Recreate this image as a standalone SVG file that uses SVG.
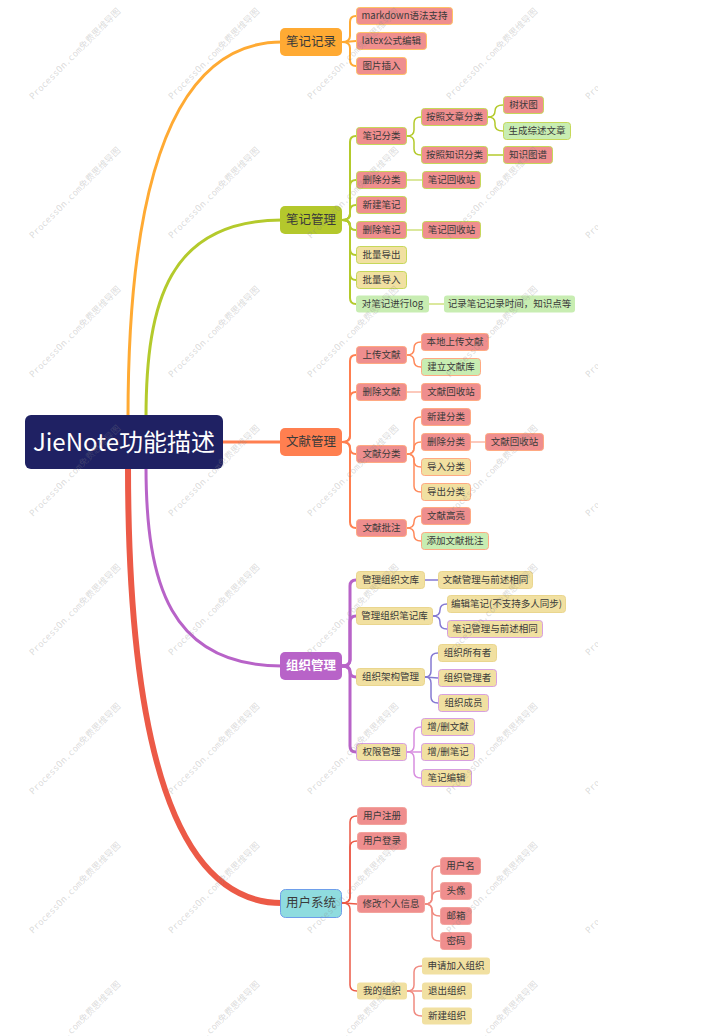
<svg xmlns="http://www.w3.org/2000/svg" width="714" height="1036" viewBox="0 0 714 1036">
<defs>
<clipPath id="wmclip"><rect x="0" y="0" width="598" height="1036"/></clipPath>
<style>
.t{font-family:"Noto Sans CJK SC","Noto Sans",sans-serif;font-size:9.5px;fill:#3a3a3a;text-anchor:middle}
.t1{font-family:"Noto Sans CJK SC","Noto Sans",sans-serif;font-size:12.5px;fill:#3a3a3a;text-anchor:middle}
.tr{font-family:"Noto Sans CJK SC","Noto Sans",sans-serif;font-size:24px;fill:#ffffff;text-anchor:middle}
.pk{fill:#EF8E8E}
.yl{fill:#F1E0A1}
.gr{fill:#C8EDB2}
.s1{stroke:#FFC266;stroke-width:1}
.s2{stroke:#C6D85A;stroke-width:1}
.s3{stroke:#FFA982;stroke-width:1}
.s4y{stroke:#EAD68E;stroke-width:1}
.s4p{stroke:#D79FE0;stroke-width:1}
.s5{stroke:#F3A39C;stroke-width:1}
.c{fill:none;stroke-linecap:round}
.wm{font-family:"DejaVu Sans Mono","Noto Sans CJK SC",monospace;font-size:9px;fill:#888888;fill-opacity:0.3}
</style>
</defs>
<rect x="0" y="0" width="714" height="1036" fill="#ffffff"/>

<g id="connectors">
  <!-- root to level 1 -->
  <path class="c" stroke="#FFAA33" stroke-width="3" d="M128,418 Q128,42 282,42"/>
  <path class="c" stroke="#B4CA2C" stroke-width="3" d="M146,418 C146,300 170,220 282,220"/>
  <path class="c" stroke="#FF7F50" stroke-width="3" d="M220,442 L282,442"/>
  <path class="c" stroke="#B863C8" stroke-width="3" d="M146,466 C146,584 170,666 282,666"/>
  <path class="c" stroke="#EC5A47" stroke-width="6" d="M128,466 Q128,903 282,903"/>

  <!-- 笔记记录 -->
  <g stroke="#FFAA33" stroke-width="2" fill="none">
    <path d="M342,42 Q350,42 350,36 L350,22 Q350,16 356,16"/>
    <path d="M342,42 C350,42 350,41 356,41"/>
    <path d="M342,42 Q350,42 350,48 L350,60 Q350,66 356,66"/>
  </g>
  <!-- 笔记管理 -->
  <g stroke="#B4CA2C" stroke-width="2" fill="none">
    <path d="M342,220 Q350,220 350,214 L350,142 Q350,136 356,136"/>
    <path d="M342,220 Q350,220 350,214 L350,186 Q350,180 356,180"/>
    <path d="M342,220 Q350,220 350,214 L350,211 Q350,205 356,205"/>
    <path d="M342,220 Q350,220 350,225 Q350,230 356,230"/>
    <path d="M342,220 Q350,220 350,226 L350,249 Q350,255 356,255"/>
    <path d="M342,220 Q350,220 350,226 L350,274 Q350,280 356,280"/>
    <path d="M342,220 Q350,220 350,226 L350,298 Q350,304 356,304"/>
  </g>
  <g stroke="#B4CA2C" stroke-width="1.5" fill="none">
    <path d="M407,136 Q414,136 414,130 L414,123 Q414,117 421,117"/>
    <path d="M407,136 Q414,136 414,142 L414,149 Q414,155 421,155"/>
    <path d="M488,117 Q495,117 495,111 Q495,105 503,105"/>
    <path d="M488,117 Q495,117 495,123 L495,125 Q495,131 503,131"/>
    <path d="M488,155 L503,155"/>
  </g>
  <g stroke="#CFE07C" stroke-width="1.5" fill="none">
    <path d="M407,180 L422,180"/>
    <path d="M407,230 L422,230"/>
    <path d="M429,304 L444,304"/>
  </g>
  <!-- 文献管理 -->
  <g stroke="#FF7F50" stroke-width="2" fill="none">
    <path d="M342,442 Q350,442 350,436 L350,361 Q350,355 356,355"/>
    <path d="M342,442 Q350,442 350,436 L350,398 Q350,392 356,392"/>
    <path d="M342,442 Q350,442 350,448 Q350,454 356,454"/>
    <path d="M342,442 Q350,442 350,448 L350,522 Q350,528 356,528"/>
  </g>
  <g stroke="#FF8A5C" stroke-width="1.5" fill="none">
    <path d="M407,355 Q414,355 414,349 L414,348 Q414,342 421,342"/>
    <path d="M407,355 Q414,355 414,361 Q414,367 421,367"/>
    <path d="M407,454 Q414,454 414,448 L414,423 Q414,417 421,417"/>
    <path d="M407,454 Q414,454 414,448 Q414,442 421,442"/>
    <path d="M407,454 Q414,454 414,460 L414,461 Q414,467 421,467"/>
    <path d="M407,454 Q414,454 414,460 L414,486 Q414,492 421,492"/>
    <path d="M407,528 Q414,528 414,522 Q414,516 421,516"/>
    <path d="M407,528 Q414,528 414,534 L414,535 Q414,541 421,541"/>
  </g>
  <g stroke="#FBB7A6" stroke-width="1.5" fill="none">
    <path d="M407,392 L421,392"/>
    <path d="M471,442 L485,442"/>
  </g>
  <!-- 组织管理 -->
  <g stroke="#B863C8" stroke-width="3" fill="none">
    <path d="M342,666 Q350,666 350,660 L350,586 Q350,580 356,580"/>
    <path d="M342,666 Q350,666 350,660 L350,622 Q350,616 356,616"/>
    <path d="M342,666 Q350,666 350,671.5 Q350,677 356,677"/>
    <path d="M342,666 Q350,666 350,672 L350,746 Q350,752 356,752"/>
  </g>
  <g stroke="#8579D2" stroke-width="1.5" fill="none">
    <path d="M425,580 L438,580"/>
    <path d="M433,616 Q440,616 440,610 Q440,604 447,604"/>
    <path d="M433,616 Q440,616 440,622 L440,623 Q440,629 447,629"/>
    <path d="M425,677 Q431,677 431,671 L431,659 Q431,653 438,653"/>
    <path d="M425,677 L438,678"/>
    <path d="M425,677 Q431,677 431,683 L431,697 Q431,703 438,703"/>
  </g>
  <g stroke="#D88FE0" stroke-width="1.5" fill="none">
    <path d="M407,752 Q414,752 414,746 L414,733 Q414,727 421,727"/>
    <path d="M407,752 L421,752"/>
    <path d="M407,752 Q414,752 414,758 L414,772 Q414,778 421,778"/>
  </g>
  <!-- 用户系统 -->
  <g stroke="#EC5A47" stroke-width="1.5" fill="none">
    <path d="M342,903 Q350,903 350,897 L350,822 Q350,816 357,816"/>
    <path d="M342,903 Q350,903 350,897 L350,847 Q350,841 357,841"/>
    <path d="M342,903 C350,903 350,904 357,904"/>
    <path d="M342,903 Q350,903 350,909 L350,985 Q350,991 357,991"/>
  </g>
  <g stroke="#F08A80" stroke-width="1.5" fill="none">
    <path d="M425,904 Q432,904 432,898 L432,872 Q432,866 440,866"/>
    <path d="M425,904 Q432,904 432,898 L432,897 Q432,891 440,891"/>
    <path d="M425,904 Q432,904 432,910 Q432,916 440,916"/>
    <path d="M425,904 Q432,904 432,910 L432,935 Q432,941 440,941"/>
    <path d="M407,991 Q414,991 414,985 L414,972 Q414,966 422,966"/>
    <path d="M407,991 L422,991"/>
    <path d="M407,991 Q414,991 414,997 L414,1010 Q414,1016 422,1016"/>
  </g>
</g>

<g id="root">
  <rect x="25" y="415" width="198" height="54" rx="6" fill="#1F2163"/>
  <text class="tr" x="124" y="450.5">JieNote功能描述</text>
</g>

<!-- level 1 -->
<g id="n-biji-jilu">
  <rect x="280" y="28" width="62" height="28" rx="5" fill="#FFAA33"/>
  <text class="t1" x="311" y="46.4">笔记记录</text>
</g>
<g id="n-biji-guanli">
  <rect x="280" y="206" width="62" height="28" rx="5" fill="#B4C82C"/>
  <text class="t1" x="311" y="224.4">笔记管理</text>
</g>
<g id="n-wenxian-guanli">
  <rect x="280" y="428" width="62" height="28" rx="5" fill="#FF7F50"/>
  <text class="t1" x="311" y="446.4">文献管理</text>
</g>
<g id="n-zuzhi-guanli">
  <rect x="280" y="652" width="62" height="28" rx="5" fill="#B863C8"/>
  <text class="t1" x="311" y="670.4" style="fill:#ffffff;font-weight:bold">组织管理</text>
</g>
<g id="n-yonghu-xitong">
  <rect x="280.5" y="889.5" width="61" height="28" rx="5" fill="#8FDCDF" stroke="#6E9EEA" stroke-width="1"/>
  <text class="t1" x="311" y="907.4">用户系统</text>
</g>

<!-- 笔记记录 children -->
<g id="n-markdown"><rect class="pk s1" x="356.5" y="7.5" width="96" height="17" rx="3"/><text class="t" x="404.5" y="19.4">markdown语法支持</text></g>
<g id="n-latex"><rect class="pk s1" x="356.5" y="32.5" width="70" height="17" rx="3"/><text class="t" x="391.5" y="44.4">latex公式编辑</text></g>
<g id="n-tupian"><rect class="pk s1" x="356.5" y="57.5" width="50" height="17" rx="3"/><text class="t" x="381.5" y="69.4">图片插入</text></g>

<!-- 笔记管理 children -->
<g id="n-biji-fenlei"><rect class="pk s2" x="356.5" y="127.5" width="50" height="17" rx="3"/><text class="t" x="381.5" y="139.4">笔记分类</text></g>
<g id="n-anzhao-wenzhang"><rect class="pk s2" x="421.5" y="108.5" width="66" height="17" rx="3"/><text class="t" x="454.5" y="120.4">按照文章分类</text></g>
<g id="n-shuzhuangtu"><rect class="pk s2" x="503.5" y="96.5" width="40" height="17" rx="3"/><text class="t" x="523.5" y="108.4">树状图</text></g>
<g id="n-zongshu"><rect class="gr s2" x="503.5" y="122.5" width="67" height="17" rx="3"/><text class="t" x="537" y="134.4">生成综述文章</text></g>
<g id="n-anzhao-zhishi"><rect class="pk s2" x="421.5" y="146.5" width="66" height="17" rx="3"/><text class="t" x="454.5" y="158.4">按照知识分类</text></g>
<g id="n-zhishi-tupu"><rect class="pk s2" x="503.5" y="146.5" width="49" height="17" rx="3"/><text class="t" x="528" y="158.4">知识图谱</text></g>
<g id="n-shanchu-fenlei"><rect class="pk s2" x="356.5" y="171.5" width="50" height="17" rx="3"/><text class="t" x="381.5" y="183.4">删除分类</text></g>
<g id="n-huishouzhan1"><rect class="pk s2" x="422.5" y="171.5" width="58" height="17" rx="3"/><text class="t" x="451.5" y="183.4">笔记回收站</text></g>
<g id="n-xinjian-biji"><rect class="pk s2" x="356.5" y="196.5" width="50" height="17" rx="3"/><text class="t" x="381.5" y="208.4">新建笔记</text></g>
<g id="n-shanchu-biji"><rect class="pk s2" x="356.5" y="221.5" width="50" height="17" rx="3"/><text class="t" x="381.5" y="233.4">删除笔记</text></g>
<g id="n-huishouzhan2"><rect class="pk s2" x="422.5" y="221.5" width="58" height="17" rx="3"/><text class="t" x="451.5" y="233.4">笔记回收站</text></g>
<g id="n-piliang-daochu"><rect class="yl s2" x="356.5" y="246.5" width="50" height="17" rx="3"/><text class="t" x="381.5" y="258.4">批量导出</text></g>
<g id="n-piliang-daoru"><rect class="yl s2" x="356.5" y="271.5" width="50" height="17" rx="3"/><text class="t" x="381.5" y="283.4">批量导入</text></g>
<g id="n-log"><rect class="gr" x="356" y="295.5" width="73" height="17" rx="3"/><text class="t" x="392.5" y="307.4">对笔记进行log</text></g>
<g id="n-log-desc"><rect class="gr" x="444" y="295.5" width="131" height="17" rx="3"/><text class="t" x="509.5" y="307.4">记录笔记记录时间，知识点等</text></g>

<!-- 文献管理 children -->
<g id="n-shangchuan"><rect class="pk s3" x="356.5" y="346.5" width="50" height="17" rx="3"/><text class="t" x="381.5" y="358.4">上传文献</text></g>
<g id="n-bendi"><rect class="pk s3" x="421.5" y="333.5" width="67" height="17" rx="3"/><text class="t" x="455" y="345.4">本地上传文献</text></g>
<g id="n-jianli"><rect class="gr s3" x="421.5" y="358.5" width="59" height="17" rx="3"/><text class="t" x="451" y="370.4">建立文献库</text></g>
<g id="n-shanchu-wenxian"><rect class="pk s3" x="356.5" y="383.5" width="50" height="17" rx="3"/><text class="t" x="381.5" y="395.4">删除文献</text></g>
<g id="n-wx-huishou1"><rect class="pk s3" x="421.5" y="383.5" width="59" height="17" rx="3"/><text class="t" x="451" y="395.4">文献回收站</text></g>
<g id="n-wenxian-fenlei"><rect class="pk s3" x="356.5" y="445.5" width="50" height="17" rx="3"/><text class="t" x="381.5" y="457.4">文献分类</text></g>
<g id="n-xinjian-fenlei"><rect class="pk s3" x="421.5" y="408.5" width="49" height="17" rx="3"/><text class="t" x="446" y="420.4">新建分类</text></g>
<g id="n-wx-shanchu-fenlei"><rect class="pk s3" x="421.5" y="433.5" width="49" height="17" rx="3"/><text class="t" x="446" y="445.4">删除分类</text></g>
<g id="n-wx-huishou2"><rect class="pk s3" x="485.5" y="433.5" width="58" height="17" rx="3"/><text class="t" x="514.5" y="445.4">文献回收站</text></g>
<g id="n-daoru-fenlei"><rect class="yl s3" x="421.5" y="458.5" width="49" height="17" rx="3"/><text class="t" x="446" y="470.4">导入分类</text></g>
<g id="n-daochu-fenlei"><rect class="yl s3" x="421.5" y="483.5" width="49" height="17" rx="3"/><text class="t" x="446" y="495.4">导出分类</text></g>
<g id="n-wenxian-pizhu"><rect class="pk s3" x="356.5" y="519.5" width="50" height="17" rx="3"/><text class="t" x="381.5" y="531.4">文献批注</text></g>
<g id="n-gaoliang"><rect class="pk s3" x="421.5" y="507.5" width="49" height="17" rx="3"/><text class="t" x="446" y="519.4">文献高亮</text></g>
<g id="n-tianjia-pizhu"><rect class="gr s3" x="421.5" y="532.5" width="67" height="17" rx="3"/><text class="t" x="455" y="544.4">添加文献批注</text></g>

<!-- 组织管理 children -->
<g id="n-zz-wenku"><rect class="yl s4y" x="356.5" y="571.5" width="68" height="17" rx="3"/><text class="t" x="390.5" y="583.4">管理组织文库</text></g>
<g id="n-zz-wenku-desc"><rect class="yl s4y" x="438.5" y="571.5" width="94" height="17" rx="3"/><text class="t" x="485.5" y="583.4">文献管理与前述相同</text></g>
<g id="n-zz-bijiku"><rect class="yl s4y" x="356.5" y="607.5" width="76" height="17" rx="3"/><text class="t" x="394.5" y="619.4">管理组织笔记库</text></g>
<g id="n-bianji-biji"><rect class="yl s4y" x="447.5" y="595.5" width="118" height="17" rx="3"/><text class="t" x="506.5" y="607.4">编辑笔记(不支持多人同步)</text></g>
<g id="n-biji-same"><rect class="yl s4p" x="447.5" y="620.5" width="95" height="17" rx="3"/><text class="t" x="495" y="632.4">笔记管理与前述相同</text></g>
<g id="n-jiagou"><rect class="yl s4y" x="356.5" y="668.5" width="68" height="17" rx="3"/><text class="t" x="390.5" y="680.4">组织架构管理</text></g>
<g id="n-suoyouzhe"><rect class="yl s4y" x="438.5" y="644.5" width="58" height="17" rx="3"/><text class="t" x="467.5" y="656.4">组织所有者</text></g>
<g id="n-guanlizhe"><rect class="yl s4p" x="438.5" y="669.5" width="58" height="17" rx="3"/><text class="t" x="467.5" y="681.4">组织管理者</text></g>
<g id="n-chengyuan"><rect class="yl s4p" x="438.5" y="694.5" width="50" height="17" rx="3"/><text class="t" x="463.5" y="706.4">组织成员</text></g>
<g id="n-quanxian"><rect class="yl s4p" x="356.5" y="743.5" width="50" height="17" rx="3"/><text class="t" x="381.5" y="755.4">权限管理</text></g>
<g id="n-zengshan-wenxian"><rect class="yl s4p" x="421.5" y="718.5" width="53" height="17" rx="3"/><text class="t" x="448" y="730.4">增/删文献</text></g>
<g id="n-zengshan-biji"><rect class="yl s4p" x="421.5" y="743.5" width="53" height="17" rx="3"/><text class="t" x="448" y="755.4">增/删笔记</text></g>
<g id="n-biji-bianji"><rect class="yl s4p" x="421.5" y="769.5" width="50" height="17" rx="3"/><text class="t" x="446.5" y="781.4">笔记编辑</text></g>

<!-- 用户系统 children -->
<g id="n-zhuce"><rect class="pk s5" x="357.5" y="807.5" width="49" height="17" rx="3"/><text class="t" x="382" y="819.4">用户注册</text></g>
<g id="n-denglu"><rect class="pk s5" x="357.5" y="832.5" width="49" height="17" rx="3"/><text class="t" x="382" y="844.4">用户登录</text></g>
<g id="n-xiugai"><rect class="pk s5" x="357.5" y="895.5" width="67" height="17" rx="3"/><text class="t" x="391" y="907.4">修改个人信息</text></g>
<g id="n-yonghuming"><rect class="pk s5" x="440.5" y="857.5" width="40" height="17" rx="3"/><text class="t" x="460.5" y="869.4">用户名</text></g>
<g id="n-touxiang"><rect class="pk s5" x="440.5" y="882.5" width="31" height="17" rx="3"/><text class="t" x="456" y="894.4">头像</text></g>
<g id="n-youxiang"><rect class="pk s5" x="440.5" y="907.5" width="31" height="17" rx="3"/><text class="t" x="456" y="919.4">邮箱</text></g>
<g id="n-mima"><rect class="pk s5" x="440.5" y="932.5" width="31" height="17" rx="3"/><text class="t" x="456" y="944.4">密码</text></g>
<g id="n-wode-zuzhi"><rect class="yl" x="357" y="982.5" width="50" height="17" rx="3"/><text class="t" x="382" y="994.4">我的组织</text></g>
<g id="n-shenqing"><rect class="yl" x="422" y="957.5" width="68" height="17" rx="3"/><text class="t" x="456" y="969.4">申请加入组织</text></g>
<g id="n-tuichu"><rect class="yl" x="422" y="982.5" width="50" height="17" rx="3"/><text class="t" x="447" y="994.4">退出组织</text></g>
<g id="n-xinjian-zuzhi"><rect class="yl" x="422" y="1007.5" width="50" height="17" rx="3"/><text class="t" x="447" y="1019.4">新建组织</text></g>

<g id="watermark" clip-path="url(#wmclip)">
  <text class="wm" x="33" y="100" transform="rotate(-45 33 100)">ProcessOn.com免费思维导图</text>
  <text class="wm" x="172" y="100" transform="rotate(-45 172 100)">ProcessOn.com免费思维导图</text>
  <text class="wm" x="311" y="100" transform="rotate(-45 311 100)">ProcessOn.com免费思维导图</text>
  <text class="wm" x="450" y="100" transform="rotate(-45 450 100)">ProcessOn.com免费思维导图</text>
  <text class="wm" x="589" y="100" transform="rotate(-45 589 100)">ProcessOn.com免费思维导图</text>
  <text class="wm" x="33" y="239" transform="rotate(-45 33 239)">ProcessOn.com免费思维导图</text>
  <text class="wm" x="172" y="239" transform="rotate(-45 172 239)">ProcessOn.com免费思维导图</text>
  <text class="wm" x="311" y="239" transform="rotate(-45 311 239)">ProcessOn.com免费思维导图</text>
  <text class="wm" x="450" y="239" transform="rotate(-45 450 239)">ProcessOn.com免费思维导图</text>
  <text class="wm" x="589" y="239" transform="rotate(-45 589 239)">ProcessOn.com免费思维导图</text>
  <text class="wm" x="33" y="378" transform="rotate(-45 33 378)">ProcessOn.com免费思维导图</text>
  <text class="wm" x="172" y="378" transform="rotate(-45 172 378)">ProcessOn.com免费思维导图</text>
  <text class="wm" x="311" y="378" transform="rotate(-45 311 378)">ProcessOn.com免费思维导图</text>
  <text class="wm" x="450" y="378" transform="rotate(-45 450 378)">ProcessOn.com免费思维导图</text>
  <text class="wm" x="589" y="378" transform="rotate(-45 589 378)">ProcessOn.com免费思维导图</text>
  <text class="wm" x="33" y="517" transform="rotate(-45 33 517)">ProcessOn.com免费思维导图</text>
  <text class="wm" x="172" y="517" transform="rotate(-45 172 517)">ProcessOn.com免费思维导图</text>
  <text class="wm" x="311" y="517" transform="rotate(-45 311 517)">ProcessOn.com免费思维导图</text>
  <text class="wm" x="450" y="517" transform="rotate(-45 450 517)">ProcessOn.com免费思维导图</text>
  <text class="wm" x="589" y="517" transform="rotate(-45 589 517)">ProcessOn.com免费思维导图</text>
  <text class="wm" x="33" y="656" transform="rotate(-45 33 656)">ProcessOn.com免费思维导图</text>
  <text class="wm" x="172" y="656" transform="rotate(-45 172 656)">ProcessOn.com免费思维导图</text>
  <text class="wm" x="311" y="656" transform="rotate(-45 311 656)">ProcessOn.com免费思维导图</text>
  <text class="wm" x="450" y="656" transform="rotate(-45 450 656)">ProcessOn.com免费思维导图</text>
  <text class="wm" x="589" y="656" transform="rotate(-45 589 656)">ProcessOn.com免费思维导图</text>
  <text class="wm" x="33" y="795" transform="rotate(-45 33 795)">ProcessOn.com免费思维导图</text>
  <text class="wm" x="172" y="795" transform="rotate(-45 172 795)">ProcessOn.com免费思维导图</text>
  <text class="wm" x="311" y="795" transform="rotate(-45 311 795)">ProcessOn.com免费思维导图</text>
  <text class="wm" x="450" y="795" transform="rotate(-45 450 795)">ProcessOn.com免费思维导图</text>
  <text class="wm" x="589" y="795" transform="rotate(-45 589 795)">ProcessOn.com免费思维导图</text>
  <text class="wm" x="33" y="934" transform="rotate(-45 33 934)">ProcessOn.com免费思维导图</text>
  <text class="wm" x="172" y="934" transform="rotate(-45 172 934)">ProcessOn.com免费思维导图</text>
  <text class="wm" x="311" y="934" transform="rotate(-45 311 934)">ProcessOn.com免费思维导图</text>
  <text class="wm" x="450" y="934" transform="rotate(-45 450 934)">ProcessOn.com免费思维导图</text>
  <text class="wm" x="589" y="934" transform="rotate(-45 589 934)">ProcessOn.com免费思维导图</text>
  <text class="wm" x="33" y="1073" transform="rotate(-45 33 1073)">ProcessOn.com免费思维导图</text>
  <text class="wm" x="172" y="1073" transform="rotate(-45 172 1073)">ProcessOn.com免费思维导图</text>
  <text class="wm" x="311" y="1073" transform="rotate(-45 311 1073)">ProcessOn.com免费思维导图</text>
  <text class="wm" x="450" y="1073" transform="rotate(-45 450 1073)">ProcessOn.com免费思维导图</text>
  <text class="wm" x="589" y="1073" transform="rotate(-45 589 1073)">ProcessOn.com免费思维导图</text>
</g>
</svg>
